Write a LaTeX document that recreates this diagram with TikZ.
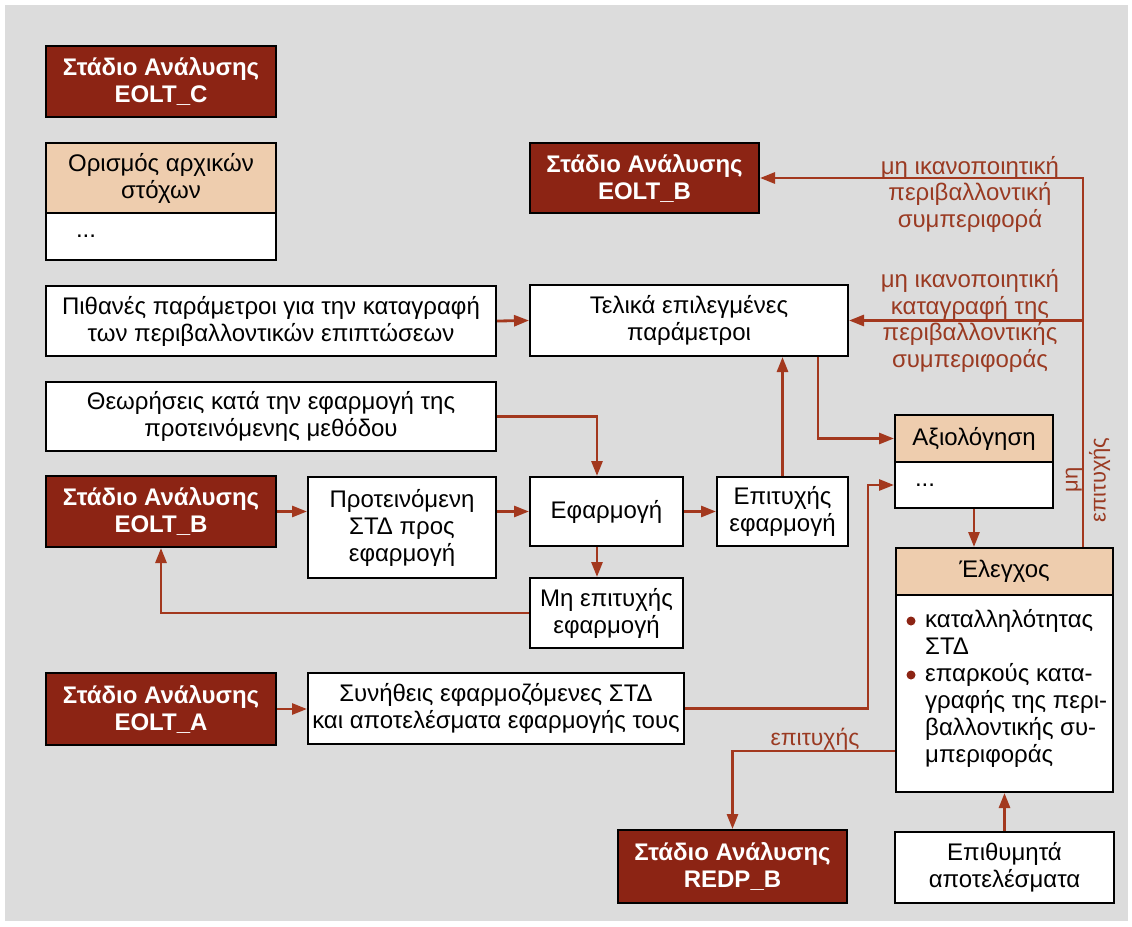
\documentclass[tikz,border=0pt]{standalone}
\usepackage{fontspec}
\setmainfont{Liberation Sans}
\usetikzlibrary{arrows.meta}

\definecolor{bggray}{HTML}{DCDCDC}
\definecolor{stagered}{HTML}{8C2414}
\definecolor{linkred}{HTML}{A3381E}
\definecolor{notered}{HTML}{9A3A22}
\definecolor{peach}{HTML}{EECDAE}

\newcommand\boxfont{\fontsize{24}{27}\selectfont}
\newcommand\stagefont{\fontsize{24}{27}\selectfont\bfseries}
\newcommand\notefont{\fontsize{24}{26.5}\selectfont}

\tikzset{
  box/.style={draw=black, line width=2pt, fill=white, inner sep=0pt,
              align=center, font=\boxfont},
  stage/.style={box, fill=stagered, text=white, font=\stagefont},
  head/.style={box, fill=peach},
  link/.style={draw=linkred, line width=2.8pt,
               -{Triangle[length=15pt,width=11pt]}},
  note/.style={text=notered, font=\notefont, align=center, inner sep=0pt},
}

\begin{document}
\begin{tikzpicture}[x=1pt, y=-1pt]
  \useasboundingbox (0,0) rectangle (1132,926);
  \fill[white] (0,0) rectangle (1132,926);
  \fill[bggray] (5,5) rectangle (1128,921);

  % left column
  \node[stage, minimum width=230pt, minimum height=71pt] (stC) at (161,81.5) {Στάδιο Ανάλυσης\\EOLT\_C};
  \node[head, minimum width=230pt, minimum height=70pt] (goalsH) at (161,178) {Ορισμός αρχικών\\στόχων};
  \node[box, minimum width=230pt, minimum height=47pt, text width=170pt, align=left] (goalsB) at (161,236.5) {...};
  \node[box, minimum width=450pt, minimum height=70pt] (params) at (271,321) {Πιθανές παράμετροι για την καταγραφή\\των περιβαλλοντικών επιπτώσεων};
  \node[box, minimum width=450pt, minimum height=69pt] (assump) at (271,416.5) {Θεωρήσεις κατά την εφαρμογή της\\προτεινόμενης μεθόδου};
  \node[stage, minimum width=230pt, minimum height=71pt] (stB2) at (161,511.5) {Στάδιο Ανάλυσης\\EOLT\_B};
  \node[box, minimum width=188pt, minimum height=101pt] (proposed) at (402,527.5) {Προτεινόμενη\\ΣΤΔ προς\\εφαρμογή};
  \node[stage, minimum width=230pt, minimum height=72pt] (stA) at (161,709) {Στάδιο Ανάλυσης\\EOLT\_A};
  \node[box, minimum width=376pt, minimum height=71pt] (usual) at (496,708.5) {Συνήθεις εφαρμοζόμενες ΣΤΔ\\και αποτελέσματα εφαρμογής τους};

  % middle column
  \node[stage, minimum width=229pt, minimum height=70pt] (stB1) at (644.5,178) {Στάδιο Ανάλυσης\\EOLT\_B};
  \node[box, minimum width=318pt, minimum height=71pt] (final) at (689,320.5) {Τελικά επιλεγμένες\\παράμετροι};
  \node[box, minimum width=153pt, minimum height=69pt] (apply) at (606.5,511.5) {Εφαρμογή};
  \node[box, minimum width=131pt, minimum height=69pt] (success) at (782.5,511.5) {Επιτυχής\\εφαρμογή};
  \node[box, minimum width=153pt, minimum height=70pt] (fail) at (606.5,613) {Μη επιτυχής\\εφαρμογή};
  \node[stage, minimum width=229pt, minimum height=73pt] (stR) at (732.5,866.5) {Στάδιο Ανάλυσης\\REDP\_B};

  % right column
  \node[head, minimum width=158pt, minimum height=47pt] (evalH) at (974,438.5) {Αξιολόγηση};
  \node[box, minimum width=158pt, minimum height=46pt, text width=118pt, align=left] (evalB) at (974,485) {...};
  \node[head, minimum width=217pt, minimum height=47pt] (checkH) at (1004.5,571.5) {Έλεγχος};
  \node[box, minimum width=217pt, minimum height=197pt] (checkB) at (1004.5,693.5) {};
  \node[font=\boxfont, align=left, anchor=north west, inner sep=0pt] (checkTxt) at (925,609)
    {καταλληλότητας\\ΣΤΔ\\επαρκούς κατα-\\γραφής της περι-\\βαλλοντικής συ-\\μπεριφοράς};
  \fill[stagered] (911,621) circle (4.5pt);
  \fill[stagered] (911,675) circle (4.5pt);
  \node[box, minimum width=219pt, minimum height=71pt] (desired) at (1004.5,867.5) {Επιθυμητά\\αποτελέσματα};

  % bend columns and rows
  \coordinate (xA) at (597,0);
  \coordinate (xF) at (818,0);
  \coordinate (xU) at (868,0);
  \coordinate (xR) at (1083,0);
  \coordinate (yS) at (0,751);

  % connectors
  \draw[link] (params.east) -- (final.west);
  \draw[link] (assump.east) -| (apply.north -| xA);
  \draw[link] (stB2.east) -- (stB2.east -| proposed.west);
  \draw[link] (apply.west -| proposed.east) -- (apply.west);
  \draw[link] (apply.east) -- (success.west);
  \draw[link] (apply.south -| xA) -- (fail.north -| xA);
  \draw[link] (fail.west) -| (stB2.south);
  \draw[link] (success.north) -- (success.north |- final.south);
  \draw[link] (final.south -| xF) |- (evalH.west);
  \draw[link] (usual.east) -| (evalB.west -| xU) -- (evalB.west);
  \draw[link] (stA.east) -- (stA.east -| usual.west);
  \draw[link] (evalB.south) -- (evalB.south |- checkH.north);
  \draw[link] (checkH.north -| xR) |- (stB1.east);
  \draw[link] (xR |- final.east) -- (final.east);
  \draw[link] (checkB.west |- yS) -| (stR.north);
  \draw[link] (desired.north) -- (checkB.south);

  % connector labels
  \node[note] (lblEnv) at (970,194) {μη ικανοποιητική\\περιβαλλοντική\\συμπεριφορά};
  \node[note] (lblRec) at (970,321) {μη ικανοποιητική\\καταγραφή της\\περιβαλλοντικής\\συμπεριφοράς};
  \node[note, font=\fontsize{23}{26}\selectfont] (lblOk) at (815,739) {επιτυχής};
  \node[note, font=\fontsize{22}{28}\selectfont, rotate=90] (lblNotOk) at (1088,480) {μη\\επιτυχής};
\end{tikzpicture}
\end{document}
